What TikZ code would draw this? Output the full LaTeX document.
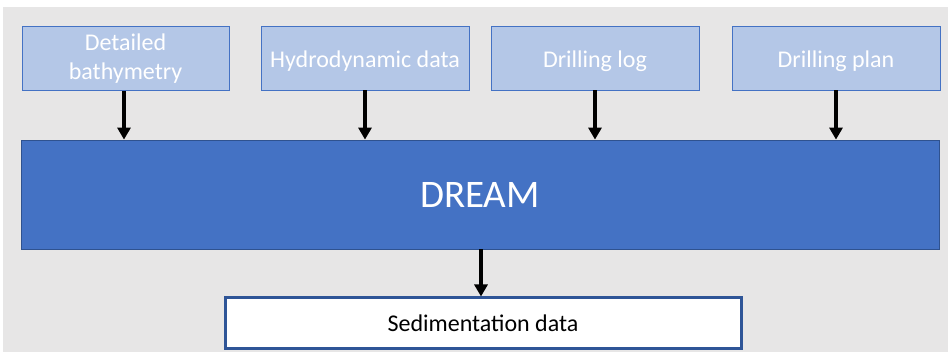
\documentclass[tikz,border=0pt]{standalone}
\usepackage{fontspec}
\setmainfont{Carlito}
\usetikzlibrary{arrows.meta}
\definecolor{bggray}{HTML}{E7E6E6}
\definecolor{lightblue}{HTML}{B4C7E7}
\definecolor{midblue}{HTML}{4472C4}
\definecolor{darkblue}{HTML}{2F528F}
\definecolor{sedborder}{HTML}{2F5597}
\begin{document}
\begin{tikzpicture}[x=1pt,y=-1pt,
  inbox/.style={draw=midblue, line width=0.8pt, fill=lightblue, text=white, font=\fontsize{24}{29}\selectfont, align=center, inner sep=0pt, minimum height=64pt},
  oneline/.style={text height=20pt, text depth=1pt},
  arr/.style={line width=3.6pt, -{Triangle[width=13pt,length=12pt]}},
]
\useasboundingbox (0,0) rectangle (948,352);
\fill[bggray] (3,7) rectangle (948,352);
% top boxes
\node[inbox, minimum width=207pt] (bath) at (125.5,58.5) {Detailed\\bathymetry};
\node[inbox, oneline, minimum width=208pt] (hydro) at (365,58) {Hydrodynamic data};
\node[inbox, oneline, minimum width=208pt] (log) at (595,58) {Drilling log};
\node[inbox, oneline, minimum width=208pt] (plan) at (836,58) {Drilling plan};
% DREAM
\node[draw=darkblue, line width=0.8pt, fill=midblue, text=white, minimum width=918pt, minimum height=109pt, inner sep=0pt, font=\fontsize{39}{44}\selectfont] (dream) at (480,194.5) {DREAM};
% output
\node[draw=sedborder, line width=3pt, fill=white, text=black, minimum width=516pt, minimum height=51pt, inner sep=0pt, text height=19pt, text depth=2pt, font=\fontsize{24}{29}\selectfont] (sed) at (483,323.5) {Sedimentation data};
% arrows
\draw[arr] (bath.south -| 124,0) -- (dream.north -| 124,0);
\draw[arr] (hydro.south) -- (hydro.south |- dream.north);
\draw[arr] (log.south) -- (log.south |- dream.north);
\draw[arr] (plan.south) -- (plan.south |- dream.north);
\draw[arr] (dream.south -| 481,0) -- (sed.north -| 481,0);
\end{tikzpicture}
\end{document}
